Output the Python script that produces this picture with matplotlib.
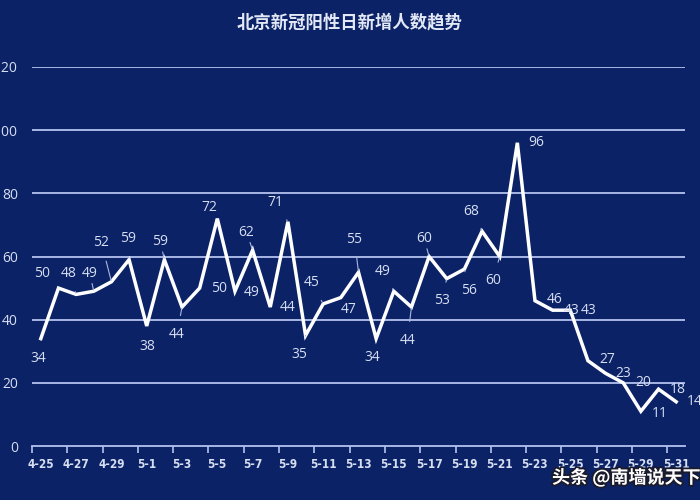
import matplotlib
matplotlib.use('Agg')
import matplotlib.pyplot as plt
import matplotlib.patheffects as pe

plt.rcParams['font.family'] = ['Noto Sans CJK SC', 'DejaVu Sans']

# 日期 (4-25 ~ 5-31) 及每日新增
dates = ['4-25', '4-26', '4-27', '4-28', '4-29', '4-30'] + [f'5-{d}' for d in range(1, 32)]
cases = [34, 50, 48, 49, 52, 59, 38, 59, 44, 50,
         72, 49, 62, 44, 71, 35, 45, 47, 55, 34,
         49, 44, 60, 53, 56, 68, 60, 96, 46, 43,
         43, 27, 23, 20, 11, 18, 14]
y_ticks = [0, 20, 40, 60, 80, 100, 120]

# 数据标签位置 (offset pixels) 与是否带引导线
label_offsets = [(-3, -20), (-16, 15), (-7, 21), (-4, 18), (-10, 39), (-1, 21), (1, -21),
                 (-4, 18), (-5, -27), (19, 0), (-8, 11), (17, -1), (-6, 18), (17, 0),
                 (-13, 19), (-6, -19), (-12, 21), (8, -12), (-4, 33), (-4, -19), (-11, 20),
                 (-4, -33), (-5, 18), (-5, -22), (5, -21), (-11, 20), (-7, -24), (19, 0),
                 (20, 1), (19, 0), (18, 0), (19, 1), (18, 0), (20, 0), (19, -2), (19, 0),
                 (19, 0)]
leaders = [1, 0, 1, 1, 1, 1, 0, 1, 1, 0, 0, 0, 1, 0, 1, 1, 1, 0, 1, 0, 1,
           1, 1, 1, 1, 1, 1, 0, 0, 0, 0, 0, 0, 0, 0, 0, 0]

BG = '#0b2266'
GRID = '#b4c2ee'
TEXT = '#d6def2'

fig = plt.figure(figsize=(7, 5), dpi=100, facecolor=BG)
ax = fig.add_axes([32 / 700, 54 / 500, 653 / 700, 379 / 500], facecolor=BG)

x = list(range(len(cases)))
ax.plot(x, cases, color='white', linewidth=2.5, zorder=3, solid_joinstyle='miter')

for xi, yi, (dx, dy), ld in zip(x, cases, label_offsets, leaders):
    props = dict(arrowstyle='-', color='#aab8e0', lw=0.8, shrinkA=6, shrinkB=1) if ld else None
    ax.annotate(str(yi), (xi, yi), xytext=(dx, dy), textcoords='offset pixels',
                ha='center', va='center', fontsize=10, color=TEXT,
                family=['Open Sans', 'DejaVu Sans'], arrowprops=props, zorder=4)

ax.set_xlim(-0.5, len(cases) - 0.5)
ax.set_ylim(0, 120)

# 网格线
for yv in y_ticks[1:]:
    ax.axhline(yv, color=GRID, linewidth=1.3, zorder=1)

for s in ['left', 'right', 'top']:
    ax.spines[s].set_visible(False)
ax.spines['bottom'].set_color(GRID)
ax.spines['bottom'].set_linewidth(1.3)

ax.set_xticks(x[::2])
ax.set_xticklabels(dates[::2], family=['DejaVu Sans'], fontsize=8.5, color=TEXT,
                   fontstretch='condensed', fontweight='bold')
ax.set_xticks([i - 0.5 for i in x[::2]], minor=True)
ax.tick_params(axis='x', which='major', length=0, pad=9)
ax.tick_params(axis='x', which='minor', length=5, width=1.2, color=GRID, direction='out')

ax.set_yticks(y_ticks)
ax.set_yticklabels([str(v) for v in y_ticks], family=['Open Sans', 'DejaVu Sans'],
                   fontsize=10, color=TEXT)
ax.tick_params(axis='y', length=0, pad=10)

fig.text(0.5, 1 - 22 / 500, '北京新冠阳性日新增人数趋势', ha='center', va='center',
         fontsize=12.5, color='#e2e8f6', fontweight='bold')

fig.text(552 / 700, 1 - 478 / 500, '头条 @南墙说天下', ha='left', va='center',
         fontsize=13, color='white', fontweight='bold',
         path_effects=[pe.withStroke(linewidth=2.5, foreground='#1a1a2a')])

fig.savefig('out.png', dpi=100, facecolor=BG)
